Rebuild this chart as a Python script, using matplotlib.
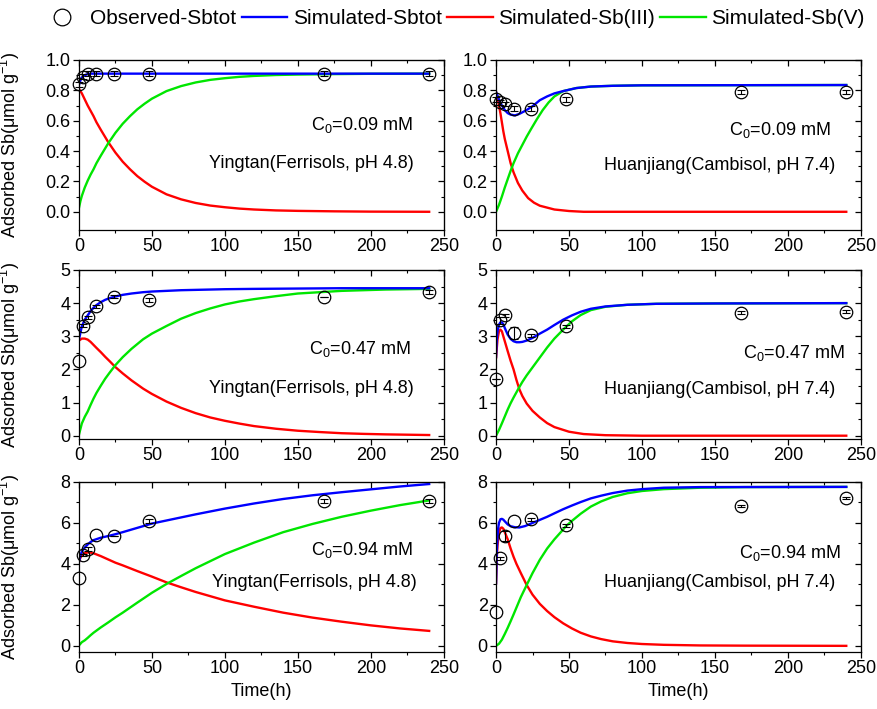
import numpy as np
import matplotlib
matplotlib.use("Agg")
import matplotlib.pyplot as plt
from matplotlib.lines import Line2D

plt.rcParams["font.family"] = ["Liberation Sans", "DejaVu Sans"]
plt.rcParams["mathtext.fontset"] = "custom"
plt.rcParams["mathtext.rm"] = "Liberation Sans"
plt.rcParams["mathtext.it"] = "Liberation Sans:italic"

# =============================================================================
# DATA
# =============================================================================
t_obs = [0, 3, 6, 12, 24, 48, 168, 240]

# --- Yingtan, C0 = 0.09 mM ---
yt09_obs = [0.84, 0.89, 0.91, 0.91, 0.91, 0.91, 0.91, 0.91]
yt09_err = [0.015, 0.015, 0.015, 0.015, 0.015, 0.015, 0.015, 0.015]
yt09_t = [0, 1, 2, 4, 6, 8, 10, 12, 15, 20, 25, 30, 35, 40, 45, 50, 60, 70,
          80, 90, 100, 110, 120, 135, 150, 175, 200, 240]
yt09_tot = [0.835, 0.865, 0.885, 0.90, 0.907, 0.91, 0.91, 0.91, 0.91, 0.91,
            0.91, 0.91, 0.91, 0.91, 0.91, 0.91, 0.91, 0.91, 0.91, 0.91, 0.91,
            0.91, 0.91, 0.91, 0.91, 0.91, 0.91, 0.91]
yt09_sb3 = [0.81, 0.795, 0.78, 0.74, 0.70, 0.665, 0.63, 0.59, 0.54, 0.46,
            0.39, 0.33, 0.28, 0.235, 0.198, 0.165, 0.115, 0.082, 0.058, 0.041,
            0.03, 0.021, 0.015, 0.009, 0.006, 0.003, 0.001, 0.0]
yt09_sb5 = [0.025, 0.07, 0.105, 0.16, 0.205, 0.245, 0.28, 0.32, 0.37, 0.45,
            0.52, 0.58, 0.63, 0.675, 0.712, 0.745, 0.795, 0.828, 0.852, 0.869,
            0.88, 0.889, 0.895, 0.901, 0.904, 0.907, 0.909, 0.91]

# --- Huanjiang, C0 = 0.09 mM ---
hj09_obs = [0.74, 0.72, 0.71, 0.68, 0.68, 0.74, 0.79, 0.79]
hj09_err = [0.015, 0.015, 0.015, 0.015, 0.015, 0.015, 0.015, 0.015]
hj09_t_tot = [0, 2, 4, 6, 8, 10, 13, 16, 20, 25, 30, 35, 40, 46, 55, 65, 80,
              100, 240]
hj09_tot = [0.79, 0.74, 0.70, 0.67, 0.65, 0.64, 0.635, 0.645, 0.665, 0.695,
            0.735, 0.76, 0.78, 0.795, 0.815, 0.825, 0.83, 0.833, 0.835]
hj09_t_sb3 = [0, 1, 2, 3, 4, 5, 6, 8, 10, 12, 15, 18, 22, 26, 30, 40, 50, 60,
              240]
hj09_sb3 = [0.79, 0.75, 0.70, 0.65, 0.59, 0.53, 0.48, 0.40, 0.32, 0.26, 0.19,
            0.14, 0.09, 0.06, 0.04, 0.015, 0.005, 0.0, 0.0]
hj09_t_sb5 = [0, 2, 4, 6, 8, 10, 12, 15, 18, 21, 24, 28, 32, 36, 40, 46, 55,
              65, 80, 100, 240]
hj09_sb5 = [0.0, 0.045, 0.10, 0.16, 0.215, 0.27, 0.32, 0.385, 0.44, 0.495,
            0.545, 0.61, 0.67, 0.72, 0.76, 0.795, 0.815, 0.825, 0.83, 0.833,
            0.835]

# --- Yingtan, C0 = 0.47 mM ---
yt47_obs = [2.25, 3.32, 3.57, 3.9, 4.2, 4.1, 4.19, 4.34]
yt47_err = [None, 0.05, 0.05, 0.05, 0.05, 0.06, 0.0, 0.06]
yt47_t = [0, 2, 4, 6, 8, 10, 12, 15, 18, 21, 25, 30, 36, 44, 50, 60, 70, 80,
          90, 100, 110, 120, 135, 150, 165, 180, 195, 210, 225, 240]
yt47_tot = [2.9, 3.3, 3.5, 3.63, 3.76, 3.86, 3.94, 4.03, 4.1, 4.15, 4.2, 4.25,
            4.29, 4.33, 4.35, 4.37, 4.39, 4.40, 4.41, 4.42, 4.425, 4.43,
            4.435, 4.44, 4.445, 4.45, 4.45, 4.45, 4.45, 4.45]
yt47_sb3 = [2.87, 2.93, 2.93, 2.9, 2.83, 2.74, 2.65, 2.52, 2.38, 2.25, 2.07,
            1.88, 1.67, 1.42, 1.26, 1.03, 0.84, 0.68, 0.55, 0.45, 0.365, 0.29,
            0.21, 0.15, 0.11, 0.075, 0.055, 0.04, 0.03, 0.02]
yt47_sb5 = [0.03, 0.37, 0.57, 0.73, 0.93, 1.12, 1.29, 1.51, 1.72, 1.9, 2.13,
            2.37, 2.62, 2.91, 3.08, 3.31, 3.53, 3.7, 3.84, 3.96, 4.05, 4.12,
            4.21, 4.29, 4.33, 4.37, 4.39, 4.41, 4.42, 4.43]

# --- Huanjiang, C0 = 0.47 mM ---
hj47_obs = [1.72, 3.48, 3.63, 3.1, 3.03, 3.3, 3.71, 3.74]
hj47_err = [0.0, 0.1, 0.05, 0.17, 0.05, 0.05, 0.05, 0.05]
hj47_t_tot = [0, 0.5, 1, 2, 3, 4, 5, 6, 8, 10, 12, 14, 16, 18, 21, 25, 30, 35,
              40, 46, 52, 58, 65, 75, 90, 110, 150, 240]
hj47_tot = [2.38, 2.9, 3.15, 3.35, 3.42, 3.42, 3.36, 3.25, 3.05, 2.92, 2.85,
            2.82, 2.82, 2.83, 2.87, 2.95, 3.08, 3.2, 3.34, 3.5, 3.63, 3.74,
            3.83, 3.9, 3.95, 3.98, 3.99, 4.0]
hj47_t_sb3 = [0, 1, 2, 3, 4, 5, 6, 8, 10, 12, 14, 16, 18, 21, 25, 30, 35, 40,
              50, 60, 75, 100, 240]
hj47_sb3 = [2.35, 2.9, 3.15, 3.2, 3.15, 3.0, 2.85, 2.55, 2.26, 2.0, 1.68, 1.4,
            1.2, 0.97, 0.75, 0.55, 0.38, 0.26, 0.12, 0.05, 0.015, 0.0, 0.0]
hj47_t_sb5 = [0, 2, 4, 6, 8, 10, 12, 14, 16, 18, 21, 25, 30, 35, 40, 46, 52,
              58, 65, 75, 90, 110, 150, 240]
hj47_sb5 = [0.0, 0.17, 0.37, 0.58, 0.79, 0.98, 1.15, 1.31, 1.47, 1.62, 1.82,
            2.06, 2.36, 2.66, 2.93, 3.2, 3.45, 3.64, 3.79, 3.89, 3.95, 3.98,
            3.99, 4.0]

# --- Yingtan, C0 = 0.94 mM ---
yt94_obs = [3.3, 4.45, 4.75, 5.4, 5.35, 6.1, 7.07, 7.07]
yt94_err = [None, 0.05, 0.1, None, 0.0, 0.08, 0.08, 0.08]
yt94_t = [0, 1, 2, 4, 6, 8, 10, 15, 20, 25, 30, 40, 50, 60, 70, 80, 100, 120,
          140, 160, 180, 200, 220, 240]
yt94_tot = [4.1, 4.4, 4.6, 4.8, 4.95, 5.07, 5.16, 5.28, 5.36, 5.45, 5.55,
            5.76, 5.97, 6.12, 6.27, 6.42, 6.7, 6.95, 7.17, 7.35, 7.5, 7.64,
            7.78, 7.9]
yt94_sb3 = [4.1, 4.3, 4.42, 4.53, 4.56, 4.55, 4.52, 4.38, 4.22, 4.06, 3.93,
            3.65, 3.38, 3.1, 2.86, 2.63, 2.22, 1.91, 1.62, 1.38, 1.18, 1.0,
            0.85, 0.73]
yt94_sb5 = [0.02, 0.1, 0.18, 0.27, 0.39, 0.52, 0.64, 0.9, 1.14, 1.39, 1.62,
            2.11, 2.59, 3.02, 3.41, 3.79, 4.48, 5.04, 5.55, 5.95, 6.3, 6.6,
            6.87, 7.1]

# --- Huanjiang, C0 = 0.94 mM ---
hj94_obs = [1.67, 4.27, 5.37, 6.1, 6.17, 5.89, 6.85, 7.22]
hj94_err = [None, 0.08, 0.25, None, 0.08, 0.08, 0.05, 0.05]
hj94_t_tot = [0, 0.5, 1, 1.5, 2, 3, 4, 5, 6, 8, 10, 13, 16, 20, 25, 30, 35,
              40, 46, 52, 58, 65, 72, 80, 90, 100, 115, 140, 240]
hj94_tot = [3.05, 4.6, 5.3, 5.75, 6.0, 6.18, 6.2, 6.16, 6.08, 5.93, 5.84,
            5.79, 5.78, 5.85, 6.0, 6.15, 6.3, 6.47, 6.67, 6.85, 7.02, 7.2,
            7.33, 7.46, 7.58, 7.65, 7.72, 7.75, 7.76]
hj94_t_sb3 = [0, 0.5, 1, 2, 3, 4, 5, 6, 8, 10, 12, 14, 17, 21, 25, 30, 35, 40,
              46, 52, 58, 65, 72, 80, 90, 100, 115, 140, 170, 240]
hj94_sb3 = [3.05, 4.3, 4.9, 5.5, 5.75, 5.78, 5.72, 5.55, 5.2, 4.75, 4.35,
            4.0, 3.55, 2.97, 2.5, 2.05, 1.7, 1.4, 1.1, 0.85, 0.64, 0.46, 0.33,
            0.22, 0.14, 0.09, 0.05, 0.02, 0.01, 0.0]
hj94_t_sb5 = [0, 2, 4, 6, 8, 10, 12, 14, 17, 21, 25, 30, 35, 40, 45, 48, 52,
              58, 65, 72, 80, 90, 100, 115, 140, 170, 240]
hj94_sb5 = [0.0, 0.1, 0.3, 0.58, 0.88, 1.2, 1.53, 1.87, 2.38, 2.97, 3.55, 4.2,
            4.75, 5.2, 5.6, 5.85, 6.1, 6.45, 6.8, 7.05, 7.27, 7.45, 7.56, 7.65,
            7.72, 7.75, 7.76]

# =============================================================================
# FIGURE
# =============================================================================
BLUE, RED, GREEN = "#0000ff", "#ff0000", "#00e600"
FS = 13

fig = plt.figure(figsize=(8.77, 7.09), dpi=100)

col_x = [0.090, 0.5656]
ax_w = 0.416
rows = [(0.6756, 0.2398), (0.3808, 0.2384), (0.0804, 0.2398)]

panels = [
    # (row, col, obs, err, [(t, y, color)], ylim, ymaj, ymin, C0, soil, pos)
    (0, 0, yt09_obs, yt09_err,
     [(yt09_t, yt09_sb3, RED), (yt09_t, yt09_sb5, GREEN), (yt09_t, yt09_tot, BLUE)],
     (-0.12, 1.0), 0.2, 0.1, "0.09", "Yingtan(Ferrisols, pH 4.8)",
     (0.775, 0.62), (0.636, 0.39)),
    (0, 1, hj09_obs, hj09_err,
     [(hj09_t_sb3, hj09_sb3, RED), (hj09_t_sb5, hj09_sb5, GREEN), (hj09_t_tot, hj09_tot, BLUE)],
     (-0.12, 1.0), 0.2, 0.1, "0.09", "Huanjiang(Cambisol, pH 7.4)",
     (0.778, 0.59), (0.614, 0.38)),
    (1, 0, yt47_obs, yt47_err,
     [(yt47_t, yt47_sb3, RED), (yt47_t, yt47_sb5, GREEN), (yt47_t, yt47_tot, BLUE)],
     (-0.1, 5.0), 1, 0.5, "0.47", "Yingtan(Ferrisols, pH 4.8)",
     (0.77, 0.53), (0.636, 0.296)),
    (1, 1, hj47_obs, hj47_err,
     [(hj47_t_sb3, hj47_sb3, RED), (hj47_t_sb5, hj47_sb5, GREEN), (hj47_t_tot, hj47_tot, BLUE)],
     (-0.1, 5.0), 1, 0.5, "0.47", "Huanjiang(Cambisol, pH 7.4)",
     (0.816, 0.51), (0.614, 0.29)),
    (2, 0, yt94_obs, yt94_err,
     [(yt94_t, yt94_sb3, RED), (yt94_t, yt94_sb5, GREEN), (yt94_t, yt94_tot, BLUE)],
     (-0.3, 8.0), 2, 1, "0.94", "Yingtan(Ferrisols, pH 4.8)",
     (0.775, 0.60), (0.644, 0.41)),
    (2, 1, hj94_obs, hj94_err,
     [(hj94_t_sb3, hj94_sb3, RED), (hj94_t_sb5, hj94_sb5, GREEN), (hj94_t_tot, hj94_tot, BLUE)],
     (-0.3, 8.0), 2, 1, "0.94", "Huanjiang(Cambisol, pH 7.4)",
     (0.805, 0.58), (0.614, 0.41)),
]

for (r, c, obs, err, lines, ylim, ymaj, ymin, c0, soil, pos_c, pos_s) in panels:
    bottom, h = rows[r]
    ax = fig.add_axes([col_x[c], bottom, ax_w, h])

    for t, y, color in lines:
        ax.plot(t, y, color=color, lw=1.7, solid_joinstyle="round")

    # observed points with error bars
    for ti, yi, ei in zip(t_obs, obs, err):
        if ei is not None:
            ax.errorbar(ti, yi, yerr=ei, fmt="none", ecolor="k", elinewidth=0.8,
                        capsize=3, capthick=0.8, clip_on=False, zorder=4)
    ax.plot(t_obs, obs, "o", mfc="none", mec="k", mew=0.9, ms=9,
            clip_on=False, zorder=5)

    ax.set_xlim(0, 250)
    ax.set_ylim(*ylim)
    ax.set_xticks(np.arange(0, 251, 50))
    ax.set_xticks(np.arange(0, 251, 25), minor=True)
    ax.set_yticks(np.arange(0, ylim[1] + 1e-6, ymaj))
    ax.set_yticks(np.arange(0, ylim[1] + 1e-6, ymin), minor=True)
    if ymaj < 1:
        ax.yaxis.set_major_formatter(matplotlib.ticker.FormatStrFormatter("%.1f"))
    ax.tick_params(which="major", direction="out", length=4, width=0.9,
                   labelsize=FS, pad=2)
    ax.tick_params(which="minor", direction="out", length=2.5, width=0.8)
    for sp in ax.spines.values():
        sp.set_linewidth(0.9)

    # mirrored ticks on top/right, pointing in
    top = ax.secondary_xaxis("top")
    top.set_xticks(np.arange(0, 251, 50))
    top.set_xticks(np.arange(0, 251, 25), minor=True)
    top.tick_params(which="both", direction="in", labeltop=False)
    top.tick_params(which="major", length=4, width=0.9)
    top.tick_params(which="minor", length=2.5, width=0.8)
    right = ax.secondary_yaxis("right")
    right.set_yticks(np.arange(0, ylim[1] + 1e-6, ymaj))
    right.set_yticks(np.arange(0, ylim[1] + 1e-6, ymin), minor=True)
    right.tick_params(which="both", direction="in", labelright=False)
    right.tick_params(which="major", length=4, width=0.9)
    right.tick_params(which="minor", length=2.5, width=0.8)

    ax.text(pos_c[0], pos_c[1], "C$_0$=" + c0 + " mM", transform=ax.transAxes,
            ha="center", va="center", fontsize=FS)
    ax.text(pos_s[0], pos_s[1], soil, transform=ax.transAxes,
            ha="center", va="center", fontsize=FS)

    if c == 0:
        ax.set_ylabel("Adsorbed Sb(\u03bcmol g$^{-1}$)", fontsize=FS)
        ax.yaxis.set_label_coords(-0.155, 0.5)
    if r == 2:
        ax.set_xlabel("Time(h)", fontsize=FS, labelpad=4)

handles = [
    Line2D([], [], ls="none", marker="o", mfc="none", mec="k", mew=0.9, ms=12),
    Line2D([], [], color=BLUE, lw=1.7),
    Line2D([], [], color=RED, lw=1.7),
    Line2D([], [], color=GREEN, lw=1.7),
]
labels = ["Observed-Sbtot", "Simulated-Sbtot", "Simulated-Sb(III)",
          "Simulated-Sb(V)"]
fig.legend(handles, labels, loc="center", bbox_to_anchor=(0.515, 0.974),
           ncol=4, frameon=False, fontsize=15, handlelength=2.2,
           handletextpad=0.25, columnspacing=0.25)

fig.savefig("out.png", dpi=100)
